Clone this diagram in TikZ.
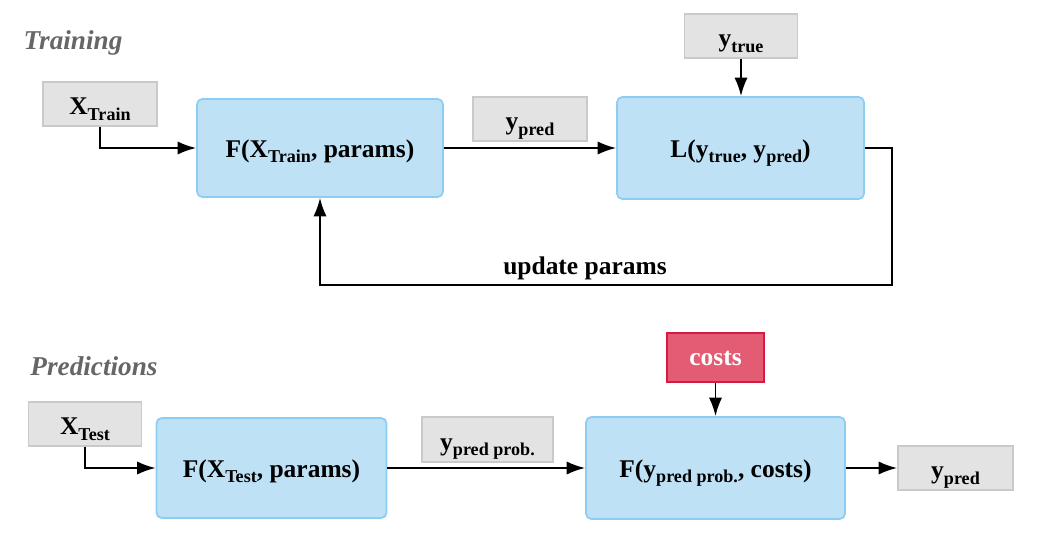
\documentclass[tikz,border=0pt]{standalone}
\usepackage{fontspec}
\setmainfont{Liberation Serif}
\usepackage{tikz}
\usetikzlibrary{arrows.meta}

\definecolor{boxblue}{HTML}{BEE1F6}
\definecolor{boxblueline}{HTML}{8ECDF2}
\definecolor{boxgray}{HTML}{E3E3E3}
\definecolor{boxgrayline}{HTML}{CACACA}
\definecolor{boxred}{HTML}{E35C74}
\definecolor{boxredline}{HTML}{D51A44}
\definecolor{labelgray}{HTML}{666666}

\newcommand{\lowtxt}[1]{\raisebox{-0.45ex}{\fontsize{10.3}{11}\selectfont #1}}

\begin{document}
\begin{tikzpicture}[x=0.02cm,y=-0.02cm,
	every node/.style={font=\fontsize{14.5}{17}\selectfont\bfseries, inner sep=0pt},
	func/.style={draw=boxblueline, fill=boxblue, line width=1pt, rounded corners=3pt, text height=11pt, text depth=0pt},
	data/.style={draw=boxgrayline, fill=boxgray, line width=1pt, text height=12.5pt, text depth=0pt},
	cost/.style={draw=boxredline, fill=boxred, line width=1pt, text=white, text height=9pt, text depth=0pt},
	phase/.style={font=\fontsize{15.5}{18}\selectfont\bfseries\itshape, text=labelgray},
	arr/.style={-{Latex[length=10.5pt,width=7.5pt]}, line width=1.1pt}]
	\useasboundingbox (0,0) rectangle (1040,537);

	% training
	\node[phase] (train) at (73,43) {Training};
	\node[data, minimum width=2.28cm, minimum height=0.88cm] (xtrain) at (100,104) {X\lowtxt{Train}};
	\node[func, minimum width=4.92cm, minimum height=1.96cm] (ftrain) at (320,148) {F(X\lowtxt{Train}, params)};
	\node[data, minimum width=2.28cm, minimum height=0.88cm] (ypredA) at (530,119) {y\lowtxt{pred}};
	\node[func, minimum width=4.94cm, minimum height=2.04cm] (loss) at (740.5,148) {L(y\lowtxt{true}, y\lowtxt{pred})};
	\node[data, minimum width=2.26cm, minimum height=0.88cm] (ytrue) at (741,36) {y\lowtxt{true}};
	\node (update) at (585,268) {update params};
	\coordinate (back) at (892,285);

	\draw[arr] (xtrain) |- (ftrain);
	\draw[arr] (ftrain) -- (loss);
	\draw[arr] (ytrue) -- (ytrue |- loss.north);
	\draw[arr] (loss.east) -| (back) -| (ftrain.south);

	% predictions
	\node[phase] (pred) at (94,366) {Predictions};
	\node[data, minimum width=2.26cm, minimum height=0.88cm] (xtest) at (85,424) {X\lowtxt{Test}};
	\node[func, minimum width=4.6cm, minimum height=2cm] (ftest) at (271.5,468) {F(X\lowtxt{Test}, params)};
	\node[data, minimum width=2.62cm, minimum height=0.9cm] (yprob) at (487.5,439.5) {y\lowtxt{pred prob.}};
	\node[func, minimum width=5.18cm, minimum height=2.04cm] (fcost) at (715.5,468) {F(y\lowtxt{pred prob.}, costs)};
	\node[cost, minimum width=1.94cm, minimum height=0.98cm] (costs) at (715.5,357.5) {costs};
	\node[data, minimum width=2.3cm, minimum height=0.88cm] (ypredB) at (955.5,468) {y\lowtxt{pred}};

	\draw[arr] (xtest) |- (ftest);
	\draw[arr] (ftest) -- (fcost);
	\draw[arr] (costs) -- (fcost);
	\draw[arr] (fcost) -- (ypredB);
\end{tikzpicture}
\end{document}
